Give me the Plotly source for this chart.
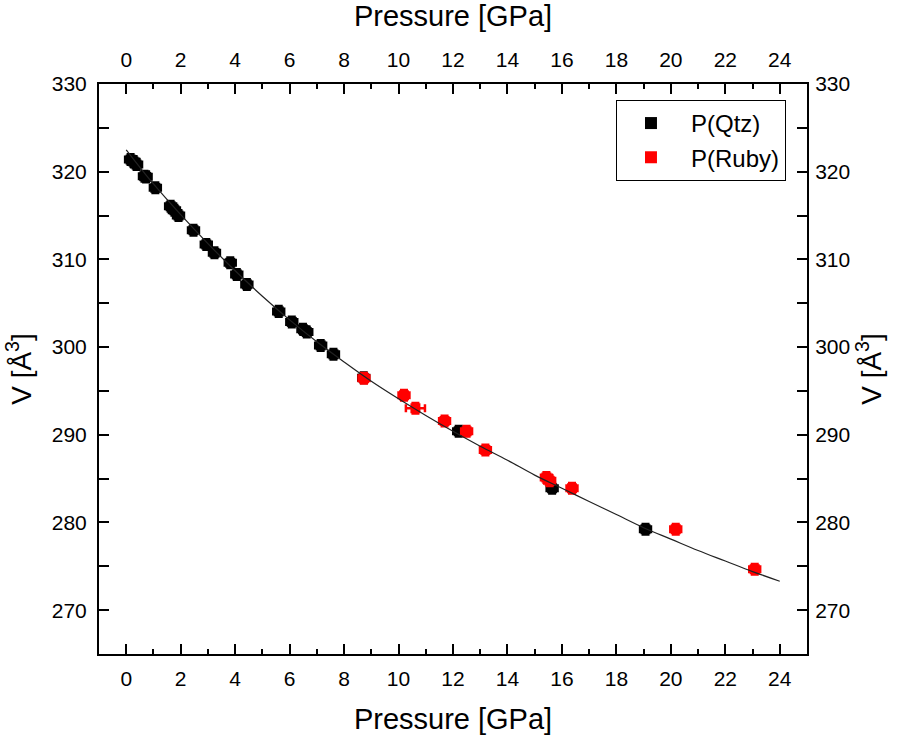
import plotly.graph_objects as go

# P(Qtz) data
qtz_p = [0.16, 0.27, 0.38, 0.67, 0.73, 1.07, 1.63, 1.77, 1.92, 2.47, 2.94, 3.24, 3.82, 4.06, 4.43,
         5.60, 6.08, 6.49, 6.63, 7.14, 7.61, 8.72, 12.21, 15.64, 19.07]
qtz_v = [321.38, 321.15, 320.81, 319.48, 319.41, 318.16, 316.06, 315.61, 315.0, 313.33, 311.70, 310.75,
         309.61, 308.28, 307.14, 304.07, 302.87, 302.02, 301.71, 300.19, 299.17, 296.49, 290.40, 283.90, 279.23]
qtz_perr = [0.2] * len(qtz_p)
qtz_verr = [0.6] * len(qtz_p)

# P(Ruby) data
ruby_p = [8.73, 10.20, 10.62, 11.69, 12.50, 13.19, 15.43, 15.55, 16.37, 20.18, 23.08]
ruby_v = [296.44, 294.50, 293.02, 291.57, 290.40, 288.27, 285.13, 284.75, 283.90, 279.23, 274.67]
ruby_perr = [0.2, 0.2, 0.35, 0.2, 0.2, 0.2, 0.2, 0.2, 0.2, 0.2, 0.2]
ruby_verr = [0.6] * len(ruby_p)

# fitted EoS curve
fit_p = list(range(0, 25))
fit_v = [322.5, 318.6, 315.1, 311.8, 308.7, 305.8, 303.1, 300.6, 298.3, 296.1, 294.1, 292.2, 290.4,
         288.7, 287.1, 285.4, 283.9, 282.4, 280.9, 279.4, 278.1, 276.8, 275.6, 274.4, 273.3]

x_ticks = list(range(0, 25, 2))
y_ticks = list(range(270, 331, 10))

FONT = "Liberation Sans, Arial"
PAD = "\u00a0\u00a0\u00a0"

fig = go.Figure()
fig.add_trace(go.Scatter(x=fit_p, y=fit_v, mode="lines", line=dict(color="#222222", width=1.2, shape="spline"),
                         showlegend=False, xaxis="x2", yaxis="y2", hoverinfo="skip"))
fig.add_trace(go.Scatter(x=qtz_p, y=qtz_v, mode="markers", name=PAD + "P(Qtz)",
                         marker=dict(symbol="square", size=10, color="black"),
                         error_x=dict(type="data", array=qtz_perr, color="black", thickness=2.5, width=4),
                         error_y=dict(type="data", array=qtz_verr, color="black", thickness=2.5, width=4)))
fig.add_trace(go.Scatter(x=ruby_p, y=ruby_v, mode="markers", name=PAD + "P(Ruby)",
                         marker=dict(symbol="square", size=10, color="#ff0000"),
                         error_x=dict(type="data", array=ruby_perr, color="#ff0000", thickness=2.5, width=4),
                         error_y=dict(type="data", array=ruby_verr, color="#ff0000", thickness=2.5, width=4)))

def xaxis_cfg(side, standoff, tstand):
    return dict(range=[-1, 25], tickvals=x_ticks, ticks="inside", ticklen=10, tickwidth=2, tickcolor="black",
                showline=True, linecolor="black", linewidth=2, showgrid=False, zeroline=False,
                minor=dict(dtick=1, tick0=0, ticks="inside", ticklen=5, tickwidth=2, tickcolor="black"),
                tickfont=dict(size=21, color="black", family=FONT), ticklabelstandoff=standoff,
                title=dict(text="Pressure [GPa]", font=dict(size=29, color="black", family=FONT), standoff=tstand),
                side=side)

def yaxis_cfg(side, standoff):
    return dict(range=[265, 330], tickvals=y_ticks, ticks="inside", ticklen=10, tickwidth=2, tickcolor="black",
                showline=True, linecolor="black", linewidth=2, showgrid=False, zeroline=False,
                minor=dict(dtick=5, tick0=270, ticks="inside", ticklen=10, tickwidth=2, tickcolor="black"),
                tickfont=dict(size=21, color="black", family=FONT), ticklabelstandoff=standoff,
                title=dict(text="V [Å<sup>3</sup>]", font=dict(size=28, color="black", family=FONT), standoff=12),
                side=side)

fig.update_layout(
    width=897, height=742,
    margin=dict(l=99, r=90, t=84, b=88),
    paper_bgcolor="white", plot_bgcolor="white",
    font=dict(family=FONT, color="black"),
    xaxis=dict(**xaxis_cfg("bottom", 5, 19), anchor="y"),
    xaxis2=dict(**xaxis_cfg("top", 7, 14), overlaying="x", matches="x", anchor="y"),
    yaxis=dict(**yaxis_cfg("left", 6), anchor="x"),
    yaxis2=dict(**yaxis_cfg("right", 2), overlaying="y", matches="y", anchor="x"),
    legend=dict(x=0.9703, y=0.972, xanchor="right", yanchor="top", bordercolor="black", borderwidth=1,
                bgcolor="white", font=dict(size=24, color="black", family=FONT),
                itemsizing="constant", tracegroupgap=0, indentation=14),
    showlegend=True,
)

fig.write_html("out.html")
